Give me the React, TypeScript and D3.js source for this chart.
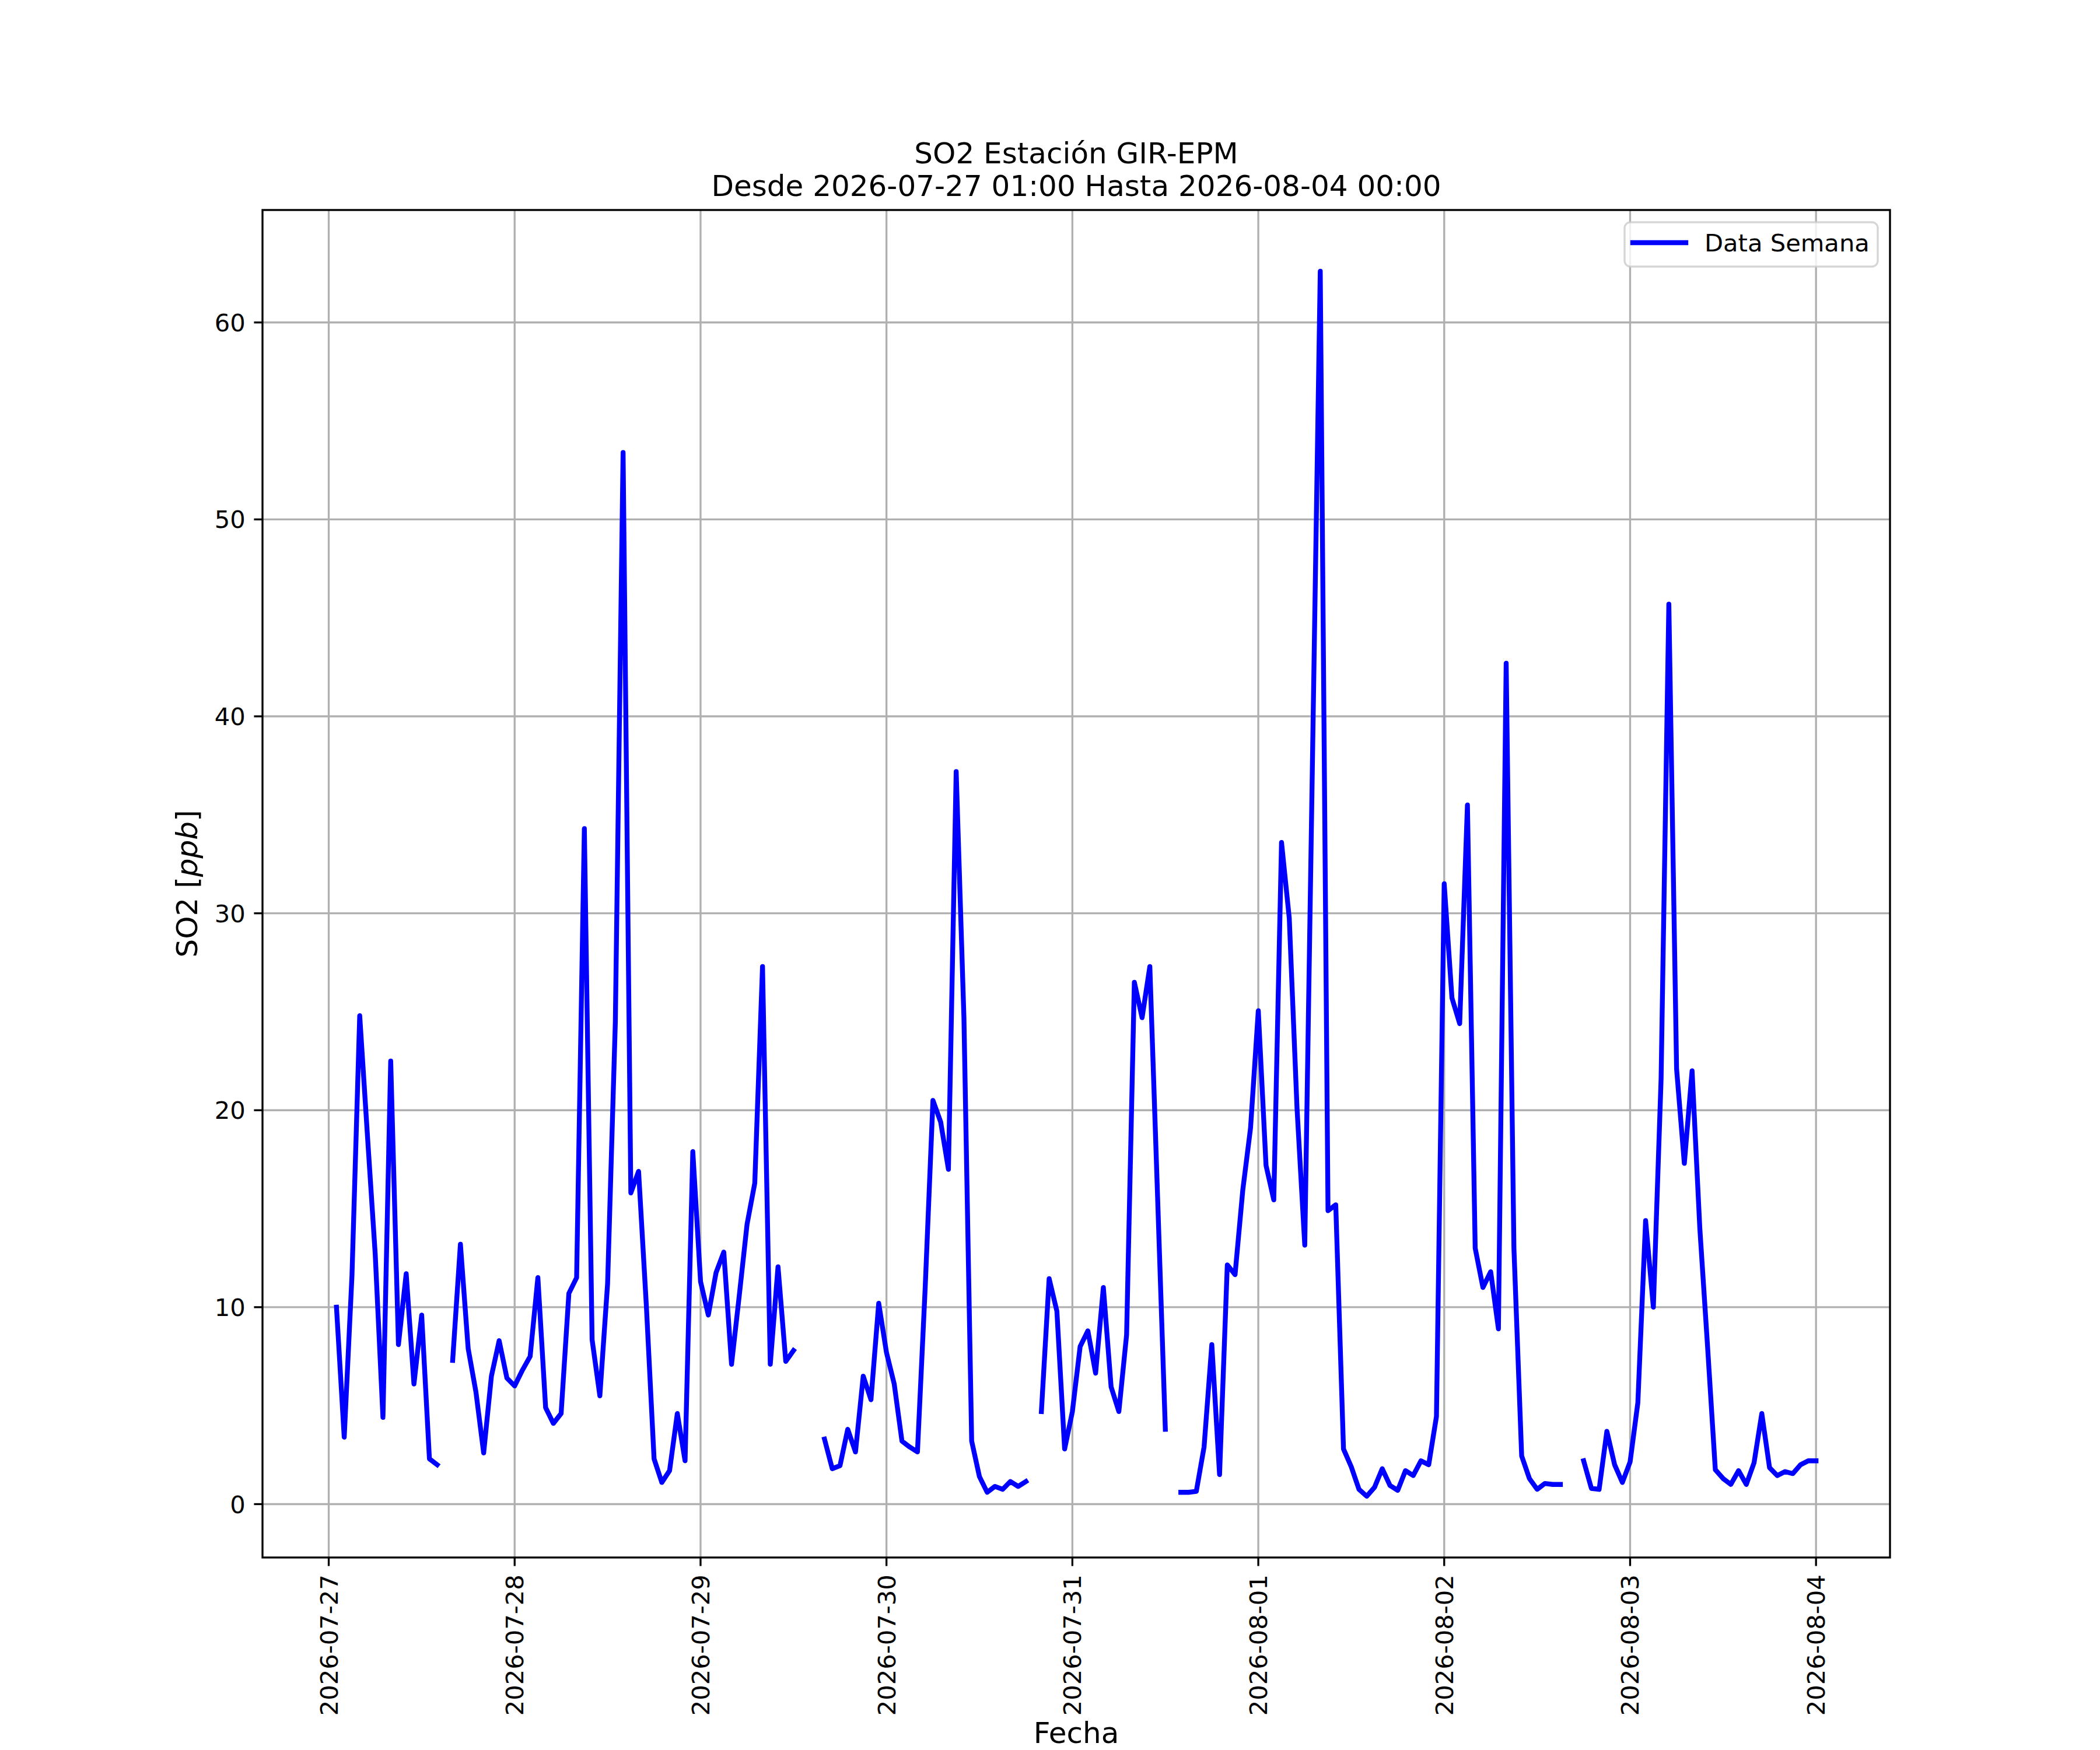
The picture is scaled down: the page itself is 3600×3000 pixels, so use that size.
import React from 'react';
import * as d3 from 'd3';

// hourly SO2 values (ppb), first value at 2026-07-27 01:00, null = no data
const day1 = [10.0, 3.4, 11.6, 24.8, 18.7, 12.7, 4.4, 22.5, 8.1, 11.7, 6.1, 9.6, 2.3, 2.0, null, 7.3, 13.2, 7.9, 5.7, 2.6, 6.5, 8.3, 6.4, 6.0];
const day2 = [6.8, 7.5, 11.5, 4.9, 4.1, 4.6, 10.7, 11.5, 34.3, 8.35, 5.5, 11.2, 24.5, 53.4, 15.8, 16.9, 10.1, 2.3, 1.1, 1.7, 4.6, 2.2, 17.9, 11.3];
const day3 = [9.6, 11.75, 12.8, 7.1, 10.6, 14.2, 16.3, 27.3, 7.1, 12.05, 7.25, 7.8, null, null, null, 3.3, 1.8, 1.95, 3.8, 2.65, 6.5, 5.3, 10.2, 7.7];
const day4 = [6.1, 3.2, 2.9, 2.65, 11.0, 20.5, 19.4, 17.0, 37.2, 24.7, 3.2, 1.4, 0.6, 0.9, 0.75, 1.15, 0.9, 1.15, null, 4.7, 11.45, 9.8, 2.8, 4.7];
const day5 = [8.0, 8.8, 6.65, 11.0, 5.95, 4.7, 8.6, 26.5, 24.7, 27.3, 15.6, 3.8, null, 0.6, 0.6, 0.65, 2.9, 8.1, 1.5, 12.15, 11.65, 15.95, 19.1, 25.05];
const day6 = [17.2, 15.45, 33.6, 29.75, 20.1, 13.15, 37.9, 62.6, 14.9, 15.2, 2.8, 1.9, 0.75, 0.4, 0.85, 1.8, 0.95, 0.7, 1.7, 1.45, 2.2, 2.0, 4.45, 31.5];
const day7 = [25.7, 24.4, 35.5, 13.0, 11.0, 11.8, 8.9, 42.7, 13.0, 2.45, 1.3, 0.75, 1.05, 1.0, 1.0, null, null, 2.2, 0.8, 0.75, 3.7, 2.0, 1.1, 2.15];
const day8 = [5.15, 14.4, 10.0, 21.6, 45.7, 22.1, 17.3, 22.0, 14.0, 8.0, 1.75, 1.3, 1.0, 1.7, 1.0, 2.1, 4.6, 1.85, 1.45, 1.65, 1.55, 2.0, 2.2, 2.2];

const so2Values: (number | null)[] = [...day1, ...day2, ...day3, ...day4, ...day5, ...day6, ...day7, ...day8];
const startTime = new Date(Date.UTC(2026, 6, 27, 1));
const yTicks = [0, 10, 20, 30, 40, 50, 60];

const titleLines = ['SO2 Estación GIR-EPM', 'Desde 2026-07-27 01:00 Hasta 2026-08-04 00:00'];
const legendLabel = 'Data Semana';

const W = 3600;
const H = 3000;
const margin = { left: 450, right: 360, top: 360, bottom: 330 };
const FONT = '"DejaVu Sans", Verdana, sans-serif';
const PT = 300 / 72;

type Point = { t: Date; v: number | null };

const points: Point[] = so2Values.map((v, i) => ({ t: d3.utcHour.offset(startTime, i), v }));

export default function App() {
  const x0 = margin.left;
  const x1 = W - margin.right;
  const y0 = H - margin.bottom;
  const y1 = margin.top;

  // matplotlib-style 5% padding around the data
  const tExt = d3.extent(points, (d) => d.t.getTime()) as [number, number];
  const tPad = (tExt[1] - tExt[0]) * 0.05;
  const x = d3.scaleUtc().domain([new Date(tExt[0] - tPad), new Date(tExt[1] + tPad)]).range([x0, x1]);

  const defined = points.filter((d) => d.v !== null).map((d) => d.v as number);
  const vMin = d3.min(defined) as number;
  const vMax = d3.max(defined) as number;
  const vPad = (vMax - vMin) * 0.05;
  const y = d3.scaleLinear().domain([vMin - vPad, vMax + vPad]).range([y0, y1]);

  const xTicks = d3.utcDay.range(d3.utcDay.ceil(x.domain()[0]), x.domain()[1]);
  const fmt = d3.utcFormat('%Y-%m-%d');

  const line = d3
    .line<Point>()
    .defined((d) => d.v !== null)
    .x((d) => x(d.t))
    .y((d) => y(d.v as number));

  const tickLen = 3.5 * PT;
  const tickPad = 3.5 * PT;
  const tickFs = 10 * PT;
  const labelFs = 12 * PT;
  const lw = 0.8 * PT;

  return (
    <div style={{ position: 'absolute', left: 0, top: 0 }}>
      <svg width={W} height={H} viewBox={`0 0 ${W} ${H}`} style={{ display: 'block', background: '#fff' }}>
        <rect x={0} y={0} width={W} height={H} fill="#fff" />

        {/* grid */}
        <g stroke="#b0b0b0" strokeWidth={lw}>
          {xTicks.map((t) => (
            <line key={'gx' + t.getTime()} x1={x(t)} x2={x(t)} y1={y0} y2={y1} />
          ))}
          {yTicks.map((v) => (
            <line key={'gy' + v} x1={x0} x2={x1} y1={y(v)} y2={y(v)} />
          ))}
        </g>

        {/* data */}
        <path
          d={line(points) || ''}
          fill="none"
          stroke="#0000ff"
          strokeWidth={2 * PT}
          strokeLinejoin="round"
          strokeLinecap="square"
        />

        {/* spines */}
        <rect x={x0} y={y1} width={x1 - x0} height={y0 - y1} fill="none" stroke="#000" strokeWidth={lw} />

        {/* x ticks */}
        <g fontFamily={FONT} fontSize={tickFs} fill="#000">
          {xTicks.map((t) => (
            <g key={'xt' + t.getTime()}>
              <line x1={x(t)} x2={x(t)} y1={y0} y2={y0 + tickLen} stroke="#000" strokeWidth={lw} />
              <text
                transform={`translate(${x(t)},${y0 + tickLen + tickPad}) rotate(-90)`}
                textAnchor="end"
                dy="0.36em"
              >
                {fmt(t)}
              </text>
            </g>
          ))}
        </g>

        {/* y ticks */}
        <g fontFamily={FONT} fontSize={tickFs} fill="#000">
          {yTicks.map((v) => (
            <g key={'yt' + v}>
              <line x1={x0 - tickLen} x2={x0} y1={y(v)} y2={y(v)} stroke="#000" strokeWidth={lw} />
              <text x={x0 - tickLen - tickPad} y={y(v)} textAnchor="end" dy="0.36em">
                {v}
              </text>
            </g>
          ))}
        </g>

        {/* axis labels */}
        <text x={(x0 + x1) / 2} y={2988} textAnchor="middle" fontFamily={FONT} fontSize={labelFs}>
          Fecha
        </text>
        <text
          transform={`translate(338,${(y0 + y1) / 2}) rotate(-90)`}
          textAnchor="middle"
          fontFamily={FONT}
          fontSize={labelFs}
        >
          SO2 [<tspan fontStyle="italic">ppb</tspan>]
        </text>

        {/* title */}
        <g fontFamily={FONT} fontSize={labelFs} textAnchor="middle">
          <text x={(x0 + x1) / 2} y={280}>{titleLines[0]}</text>
          <text x={(x0 + x1) / 2} y={336}>{titleLines[1]}</text>
        </g>

        {/* legend */}
        <g>
          <rect
            x={2785}
            y={381}
            width={434}
            height={76}
            rx={10}
            fill="#fff"
            fillOpacity={0.8}
            stroke="#cccccc"
            strokeOpacity={0.8}
            strokeWidth={lw}
          />
          <line x1={2799} x2={2890} y1={416} y2={416} stroke="#0000ff" strokeWidth={2 * PT} strokeLinecap="square" />
          <text x={2922} y={431} fontFamily={FONT} fontSize={tickFs}>
            {legendLabel}
          </text>
        </g>
      </svg>
    </div>
  );
}
